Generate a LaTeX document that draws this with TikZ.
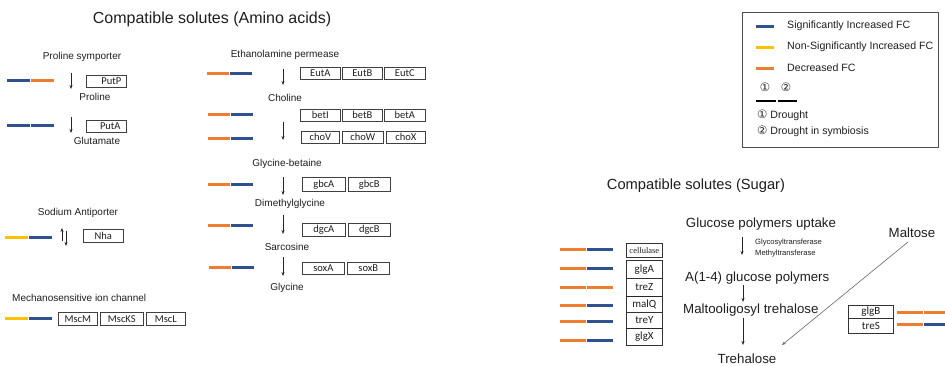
\documentclass[tikz,border=0pt]{standalone}
\usepackage{fontspec}
\setmainfont{Liberation Sans}
\newfontfamily\symfont{DejaVu Sans}
\newfontfamily\calfont{Carlito}
\newfontfamily\serfont{Liberation Serif}
\usetikzlibrary{arrows.meta}
\definecolor{fcblue}{RGB}{47,82,143}
\definecolor{fcorange}{RGB}{237,125,49}
\definecolor{fcyellow}{RGB}{255,192,0}
\definecolor{txt}{RGB}{30,30,30}
\newcommand{\fcpair}[5]{%
  \draw[fcbar,#4] (#1,#2) -- ({#1+#3},#2);
  \draw[fcbar,#5] ({#1+#3+1},#2) -- ({#1+2*#3+1},#2);}
\begin{document}
\begin{tikzpicture}[x=1pt,y=-1pt,
  every node/.style={text=txt},
  fcbar/.style={line width=3pt},
  title/.style={inner sep=0pt, font=\fontsize{16}{18}\selectfont},
  stitle/.style={inner sep=0pt, font=\fontsize{14.7}{17}\selectfont},
  lbl/.style={inner sep=0pt, font=\fontsize{10}{12}\selectfont},
  leg/.style={inner sep=0pt, anchor=west, font=\fontsize{10.6}{12}\selectfont},
  slbl/.style={inner sep=0pt, font=\fontsize{13.3}{15}\selectfont},
  tiny/.style={inner sep=0pt, anchor=west, font=\fontsize{7.6}{9}\selectfont},
  gbox/.style={draw=black!75, line width=0.6pt, inner sep=0pt, minimum height=12pt, anchor=north west, font=\calfont\fontsize{10.5}{11}\selectfont},
  cbox/.style={draw=black!80, line width=0.7pt, inner sep=0pt, minimum width=36pt, anchor=north west, font=\calfont\fontsize{11}{12}\selectfont},
  circ/.style={font=\symfont\fontsize{11.5}{12}\selectfont},
  arr/.style={draw=black!85, line width=0.6pt, -{Stealth[length=4pt,width=3pt]}},
]
\useasboundingbox (0,0) rectangle (945,365);

% ---------- Amino acids ----------
\node[title] (t1) at (212,19) {Compatible solutes (Amino acids)};

\node[lbl] (prosym) at (82,57) {Proline symporter};
\fcpair{7}{80}{23}{fcblue}{fcorange}
\coordinate (a1s) at (71,73); \coordinate (a1e) at (71,89);
\draw[arr] (a1s) -- (a1e);
\node[gbox, minimum width=40pt] (putp) at (86,75) {\hspace*{10pt}PutP};
\node[lbl] (proline) at (95,97) {Proline};

\fcpair{7}{125}{23}{fcblue}{fcblue}
\coordinate (a2s) at (71,117); \coordinate (a2e) at (71,133);
\draw[arr] (a2s) -- (a2e);
\node[gbox, minimum width=40pt] (puta) at (86,120) {\hspace*{8pt}PutA};
\node[lbl] (glu) at (97,141) {Glutamate};

\node[lbl] (sod) at (78,213) {Sodium Antiporter};
\fcpair{5}{237}{23}{fcyellow}{fcblue}
\coordinate (a3s) at (62,241); \coordinate (a3e) at (62,228);
\draw[arr] (a3s) -- (a3e);
\coordinate (a4s) at (66,231); \coordinate (a4e) at (66,246);
\draw[arr] (a4s) -- (a4e);
\node[gbox, minimum width=40pt, minimum height=13pt] (nha) at (83,229) {Nha};

\node[lbl, anchor=west] (mech) at (12,298) {Mechanosensitive ion channel};
\fcpair{5}{318}{23}{fcyellow}{fcblue}
\node[gbox, minimum width=39pt, minimum height=13pt] (mscm) at (58,312) {MscM};
\node[gbox, minimum width=43pt, minimum height=13pt] (msck) at (100,312) {MscKS};
\node[gbox, minimum width=39pt, minimum height=13pt] (mscl) at (146,312) {MscL};

% middle column
\node[lbl] (eth) at (285,55) {Ethanolamine permease};
\fcpair{207}{73}{22}{fcorange}{fcblue}
\coordinate (b1s) at (283,69); \coordinate (b1e) at (283,85);
\draw[arr] (b1s) -- (b1e);
\node[gbox, minimum width=40pt] (euta) at (300,67) {EutA};
\node[gbox, minimum width=40pt] (eutb) at (342,67) {EutB};
\node[gbox, minimum width=41pt] (eutc) at (384,67) {EutC};

\node[lbl] (chol) at (285,98) {Choline};
\fcpair{208}{114}{22}{fcorange}{fcblue}
\fcpair{208}{138}{22}{fcorange}{fcblue}
\coordinate (b2s) at (283,122); \coordinate (b2e) at (283,140);
\draw[arr] (b2s) -- (b2e);
\node[gbox, minimum width=40pt] (beti) at (300,109) {betI};
\node[gbox, minimum width=40pt] (betb) at (342,109) {betB};
\node[gbox, minimum width=41pt] (beta) at (384,109) {betA};
\node[gbox, minimum width=38pt] (chov) at (301,131) {choV};
\node[gbox, minimum width=41pt] (chow) at (342,131) {choW};
\node[gbox, minimum width=39pt] (chox) at (386,131) {choX};

\node[lbl] (glyb) at (287,164) {Glycine-betaine};
\fcpair{208}{184}{22}{fcorange}{fcblue}
\coordinate (b3s) at (283,177); \coordinate (b3e) at (283,195);
\draw[arr] (b3s) -- (b3e);
\node[gbox, minimum width=43pt, minimum height=14pt] (gbca) at (302,177) {gbcA};
\node[gbox, minimum width=42pt, minimum height=14pt] (gbcb) at (348,177) {gbcB};

\node[lbl] (dmg) at (290,204) {Dimethylglycine};
\fcpair{208}{225}{22}{fcorange}{fcblue}
\coordinate (b4s) at (283,215); \coordinate (b4e) at (283,234);
\draw[arr] (b4s) -- (b4e);
\node[gbox, minimum width=43pt, minimum height=13pt] (dgca) at (302,223) {dgcA};
\node[gbox, minimum width=42pt, minimum height=13pt] (dgcb) at (348,223) {dgcB};

\node[lbl] (sarc) at (287,247) {Sarcosine};
\fcpair{209}{267}{22}{fcorange}{fcblue}
\coordinate (b5s) at (283,257); \coordinate (b5e) at (283,276);
\draw[arr] (b5s) -- (b5e);
\node[gbox, minimum width=42pt] (soxa) at (302,262) {soxA};
\node[gbox, minimum width=42pt] (soxb) at (347,262) {soxB};
\node[lbl] (glyc) at (287,288) {Glycine};

% ---------- Legend ----------
\node[draw=black!70, line width=0.7pt, minimum width=196pt, minimum height=135pt, anchor=north west, inner sep=0pt] (legend) at (742,12) {};
\coordinate (l1a) at (756,26); \coordinate (l1b) at (774,26);
\draw[fcbar,fcblue] (l1a) -- (l1b);
\node[leg] (lt1) at (787,26) {Significantly Increased FC};
\coordinate (l2a) at (756,47); \coordinate (l2b) at (774,47);
\draw[fcbar,fcyellow] (l2a) -- (l2b);
\node[leg] (lt2) at (787,47) {Non-Significantly Increased FC};
\coordinate (l3a) at (756,68); \coordinate (l3b) at (774,68);
\draw[fcbar,fcorange] (l3a) -- (l3b);
\node[leg] (lt3) at (787,68) {Decreased FC};
\node[inner sep=0pt, circ] (c1) at (765,87) {①};
\node[inner sep=0pt, circ] (c2) at (786,87) {②};
\coordinate (k1a) at (756,101); \coordinate (k1b) at (776,101);
\coordinate (k2a) at (778,101); \coordinate (k2b) at (797,101);
\draw[line width=2.4pt, black] (k1a) -- (k1b);
\draw[line width=2.4pt, black] (k2a) -- (k2b);
\node[leg] (d1) at (757,115) {{\symfont\fontsize{11.5}{12}\selectfont ①} Drought};
\node[leg] (d2) at (757,131) {{\symfont\fontsize{11.5}{12}\selectfont ②} Drought in symbiosis};

% ---------- Sugar ----------
\node[stitle] (t2) at (696,186) {Compatible solutes (Sugar)};

\fcpair{560}{249}{26}{fcorange}{fcblue}
\fcpair{560}{268}{26}{fcorange}{fcblue}
\fcpair{560}{287}{26}{fcorange}{fcorange}
\fcpair{560}{305}{26}{fcorange}{fcblue}
\fcpair{560}{321}{26}{fcorange}{fcblue}
\fcpair{560}{340}{26}{fcorange}{fcblue}

\node[draw=black!80, line width=0.7pt, inner sep=0pt, minimum width=36pt, minimum height=14pt, anchor=north west, font=\serfont\fontsize{8.5}{9}\selectfont] (cell) at (626,243) {cellulase};
\node[cbox, minimum height=18pt] (glga) at (626,260) {glgA};
\node[cbox, minimum height=18pt] (trez) at (626,278) {treZ};
\node[cbox, minimum height=16pt] (malq) at (626,296) {malQ};
\node[cbox, minimum height=16pt] (trey) at (626,312) {treY};
\node[cbox, minimum height=17pt] (glgx) at (626,328) {glgX};
\draw[line width=1.3pt, black!85] (trez.south west) -- (trez.south east);
\draw[line width=1.3pt, black!85] (trey.south west) -- (trey.south east);

\node[slbl] (gpu) at (761,224) {Glucose polymers uptake};
\coordinate (s1s) at (742,237); \coordinate (s1e) at (742,255);
\draw[arr] (s1s) -- (s1e);
\node[tiny] (gt) at (755,243) {Glycosyltransferase};
\node[tiny] (mt) at (755,254) {Methyltransferase};
\node[slbl, anchor=west] (a14) at (685,278) {A(1-4) glucose polymers};
\coordinate (s2s) at (743,285); \coordinate (s2e) at (743,302);
\draw[arr] (s2s) -- (s2e);
\node[slbl, anchor=west] (mot) at (683,310) {Maltooligosyl trehalose};
\coordinate (s3s) at (743,318); \coordinate (s3e) at (743,345);
\draw[arr] (s3s) -- (s3e);
\node[slbl] (treh) at (747,359) {Trehalose};
\node[slbl] (maltose) at (912,233) {Maltose};
\coordinate (m1) at (908,242); \coordinate (m2) at (782,345);
\draw[arr, draw=black!60] (m1) -- (m2);

\node[cbox, minimum width=45pt, minimum height=13pt] (glgb) at (848,305) {glgB};
\node[cbox, minimum width=45pt, minimum height=15pt] (tres) at (848,318) {treS};
\coordinate (g1a) at (897,312); \coordinate (g1b) at (923,312);
\coordinate (g1c) at (924,312); \coordinate (g1d) at (945,312);
\draw[fcbar,fcorange] (g1a) -- (g1b);
\draw[fcbar,fcorange] (g1c) -- (g1d);
\coordinate (g2a) at (897,324); \coordinate (g2b) at (923,324);
\coordinate (g2c) at (924,324); \coordinate (g2d) at (945,324);
\draw[fcbar,fcorange] (g2a) -- (g2b);
\draw[fcbar,fcblue] (g2c) -- (g2d);
\end{tikzpicture}
\end{document}
